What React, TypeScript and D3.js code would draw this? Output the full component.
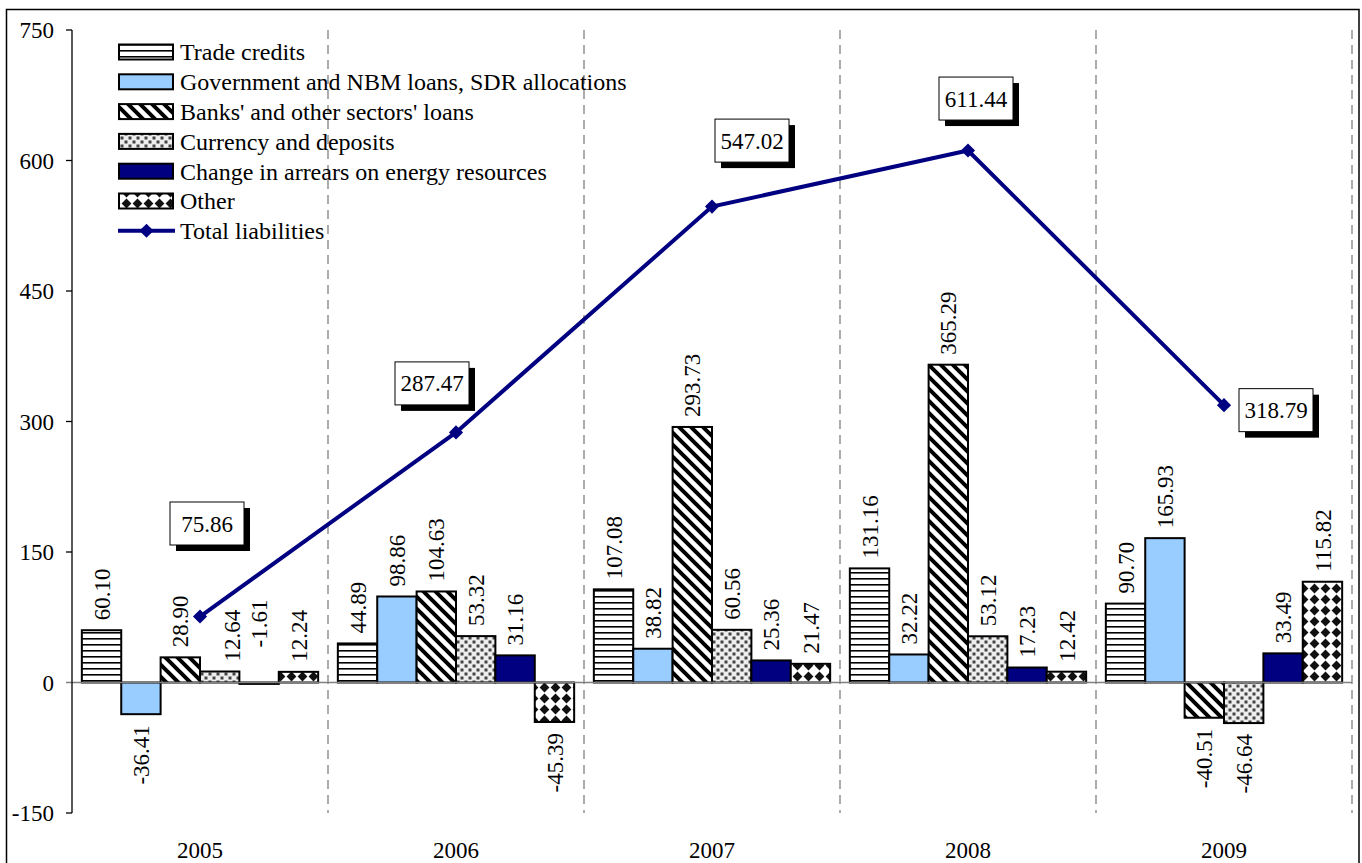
import React from "react";
import * as d3 from "d3";

// Liabilities flows by instrument, 2005-2009
const years = ["2005", "2006", "2007", "2008", "2009"];
const seriesNames = [
  "Trade credits",
  "Government and NBM loans, SDR allocations",
  "Banks' and other sectors' loans",
  "Currency and deposits",
  "Change in arrears on energy resources",
  "Other",
];
const tradeCredits = [60.1, 44.89, 107.08, 131.16, 90.7];
const governmentLoans = [-36.41, 98.86, 38.82, 32.22, 165.93];
const banksLoans = [28.9, 104.63, 293.73, 365.29, -40.51];
const currencyDeposits = [12.64, 53.32, 60.56, 53.12, -46.64];
const energyArrears = [-1.61, 31.16, 25.36, 17.23, 33.49];
const otherLiabilities = [12.24, -45.39, 21.47, 12.42, 115.82];
const totalLiabilities = [75.86, 287.47, 547.02, 611.44, 318.79];
const yTicks = [-150, 0, 150, 300, 450, 600, 750];

const seriesValues = [
  tradeCredits,
  governmentLoans,
  banksLoans,
  currencyDeposits,
  energyArrears,
  otherLiabilities,
];

const W = 1362;
const H = 863;
const NAVY = "#000080";
const FAMILY = '"Liberation Serif", "Times New Roman", Times, serif';
const textStyle: React.CSSProperties = { fontFamily: FAMILY, fontSize: "23px" };
const legendStyle: React.CSSProperties = { fontFamily: FAMILY, fontSize: "24px" };

// fills for each series (patterns defined in <defs>)
const fills = [
  "url(#hstripe)",
  "#99CCFF",
  "url(#diag)",
  "url(#dots)",
  NAVY,
  "url(#diamonds)",
];

// placement of the boxed total labels relative to their markers
const totalLabelOffsets: [number, number][] = [
  [7, -93],
  [-24, -49],
  [40, -66],
  [8, -52],
  [52, 5],
];

export default function App() {
  const left = 72;
  const right = 1352;
  const top = 30;
  const bottom = 813;

  const x0 = d3.scaleBand<string>().domain(years).range([left, right]).padding(0);
  const x1 = d3
    .scaleBand<string>()
    .domain(seriesNames)
    .range([0, x0.bandwidth()])
    .paddingInner(0)
    .paddingOuter(0.25);
  const y = d3.scaleLinear().domain([-150, 750]).range([bottom, top]);
  const y0 = y(0);

  const lineGen = d3
    .line<number>()
    .x((_, i) => (x0(years[i]) as number) + x0.bandwidth() / 2)
    .y((d) => y(d));

  const bars: React.ReactNode[] = [];
  const labels: React.ReactNode[] = [];
  seriesNames.forEach((name, si) => {
    seriesValues[si].forEach((v, yi) => {
      const bx = (x0(years[yi]) as number) + (x1(name) as number);
      const bw = x1.bandwidth();
      const yTop = y(Math.max(0, v));
      const yBot = y(Math.min(0, v));
      bars.push(
        <rect
          key={`b-${si}-${yi}`}
          x={bx}
          y={yTop}
          width={bw}
          height={Math.max(yBot - yTop, 1)}
          fill={fills[si]}
          stroke="#000"
          strokeWidth={2}
        />
      );
      const cx = bx + bw / 2;
      const txt = v.toFixed(2);
      let ly: number;
      let anchor: "start" | "end";
      if (v >= 0) {
        ly = yTop - 10;
        anchor = "start";
      } else if (v > -5) {
        // tiny negative: label sits above the axis
        ly = y0 - 35;
        anchor = "start";
      } else {
        ly = yBot + 11;
        anchor = "end";
      }
      const dx = yi === 0 && si === 3 ? 12 : 0;
      labels.push(
        <text
          key={`l-${si}-${yi}`}
          transform={`translate(${cx + dx},${ly}) rotate(-90)`}
          textAnchor={anchor}
          dy="0.35em"
          style={textStyle}
          fill="#000"
        >
          {txt}
        </text>
      );
    });
  });

  const legendY0 = 52;
  const legendStep = 29.8;

  return (
    <svg
      width={W}
      height={H}
      style={{ position: "absolute", left: 0, top: 0, background: "#fff" }}
    >
      <defs>
        <pattern id="hstripe" patternUnits="userSpaceOnUse" width={8} height={6}>
          <rect width={8} height={6} fill="#fff" />
          <rect y={2} width={8} height={1.6} fill="#000" />
        </pattern>
        <pattern id="diag" patternUnits="userSpaceOnUse" width={12} height={12}>
          <rect width={12} height={12} fill="#fff" />
          <path d="M-3,-3 L15,15 M-3,9 L3,15 M9,-3 L15,3" stroke="#000" strokeWidth={4} />
        </pattern>
        <pattern id="dots" patternUnits="userSpaceOnUse" width={8} height={8}>
          <rect width={8} height={8} fill="#eeeeee" />
          <rect x={0.5} y={0.5} width={3} height={3} fill="#444" />
          <rect x={4.5} y={4.5} width={3} height={3} fill="#444" />
        </pattern>
        <pattern id="diamonds" patternUnits="userSpaceOnUse" width={11} height={11}>
          <rect width={11} height={11} fill="#fff" />
          <path d="M5.5,0.6 L10.4,5.5 L5.5,10.4 L0.6,5.5 Z" fill="#111" />
        </pattern>
      </defs>

      {/* outer frame */}
      <rect x={6.5} y={9.5} width={1352.5} height={880} fill="none" stroke="#000" strokeWidth={1.5} />

      {/* category separators */}
      {years.map((yr, i) => {
        const gx = (x0(yr) as number) + x0.bandwidth();
        return (
          <line
            key={`g-${i}`}
            x1={gx}
            x2={gx}
            y1={top}
            y2={bottom}
            stroke="#808080"
            strokeWidth={1.3}
            strokeDasharray="9,6"
          />
        );
      })}

      {/* bars */}
      {bars}

      {/* zero line */}
      <line x1={left - 6} x2={right} y1={y0} y2={y0} stroke="#808080" strokeWidth={1.5} />

      {/* y axis */}
      <line x1={left} x2={left} y1={top} y2={bottom} stroke="#000" strokeWidth={1.3} />
      {yTicks.map((t) => (
        <g key={`t-${t}`}>
          {t !== 0 && (
            <line x1={left - 6} x2={left} y1={y(t)} y2={y(t)} stroke="#000" strokeWidth={1.3} />
          )}
          <text x={54} y={y(t)} dy="0.35em" textAnchor="end" style={textStyle} fill="#000">
            {t}
          </text>
        </g>
      ))}

      {/* year labels */}
      {years.map((yr) => (
        <text
          key={`yl-${yr}`}
          x={(x0(yr) as number) + x0.bandwidth() / 2}
          y={858}
          textAnchor="middle"
          style={textStyle}
          fill="#000"
        >
          {yr}
        </text>
      ))}

      {/* value labels */}
      {labels}

      {/* total liabilities line */}
      <path d={lineGen(totalLiabilities) || ""} fill="none" stroke={NAVY} strokeWidth={4} />
      {totalLiabilities.map((v, i) => {
        const cx = (x0(years[i]) as number) + x0.bandwidth() / 2;
        const cy = y(v);
        return (
          <rect
            key={`m-${i}`}
            x={cx - 5}
            y={cy - 5}
            width={10}
            height={10}
            fill={NAVY}
            transform={`rotate(45,${cx},${cy})`}
          />
        );
      })}

      {/* boxed total labels */}
      {totalLiabilities.map((v, i) => {
        const cx = (x0(years[i]) as number) + x0.bandwidth() / 2 + totalLabelOffsets[i][0];
        const cy = y(v) + totalLabelOffsets[i][1];
        const bw = 74;
        const bh = 43;
        return (
          <g key={`tl-${i}`}>
            <rect x={cx - bw / 2 + 6} y={cy - bh / 2 + 6} width={bw} height={bh} fill="#000" />
            <rect
              x={cx - bw / 2}
              y={cy - bh / 2}
              width={bw}
              height={bh}
              fill="#fff"
              stroke="#000"
              strokeWidth={1}
            />
            <text x={cx} y={cy} dy="0.35em" textAnchor="middle" style={textStyle} fill="#000">
              {v.toFixed(2)}
            </text>
          </g>
        );
      })}

      {/* legend */}
      {seriesNames.map((name, i) => {
        const ly = legendY0 + i * legendStep;
        return (
          <g key={`lg-${i}`}>
            <rect x={119} y={ly - 7.5} width={54} height={15} fill={fills[i]} stroke="#000" strokeWidth={2} />
            <text x={180} y={ly} dy="0.35em" style={legendStyle} fill="#000">
              {name}
            </text>
          </g>
        );
      })}
      {(() => {
        const ly = legendY0 + 6 * legendStep;
        return (
          <g>
            <line x1={118} x2={175} y1={ly} y2={ly} stroke={NAVY} strokeWidth={4} />
            <rect
              x={146.5 - 5}
              y={ly - 5}
              width={10}
              height={10}
              fill={NAVY}
              transform={`rotate(45,146.5,${ly})`}
            />
            <text x={180} y={ly} dy="0.35em" style={legendStyle} fill="#000">
              Total liabilities
            </text>
          </g>
        );
      })()}
    </svg>
  );
}
